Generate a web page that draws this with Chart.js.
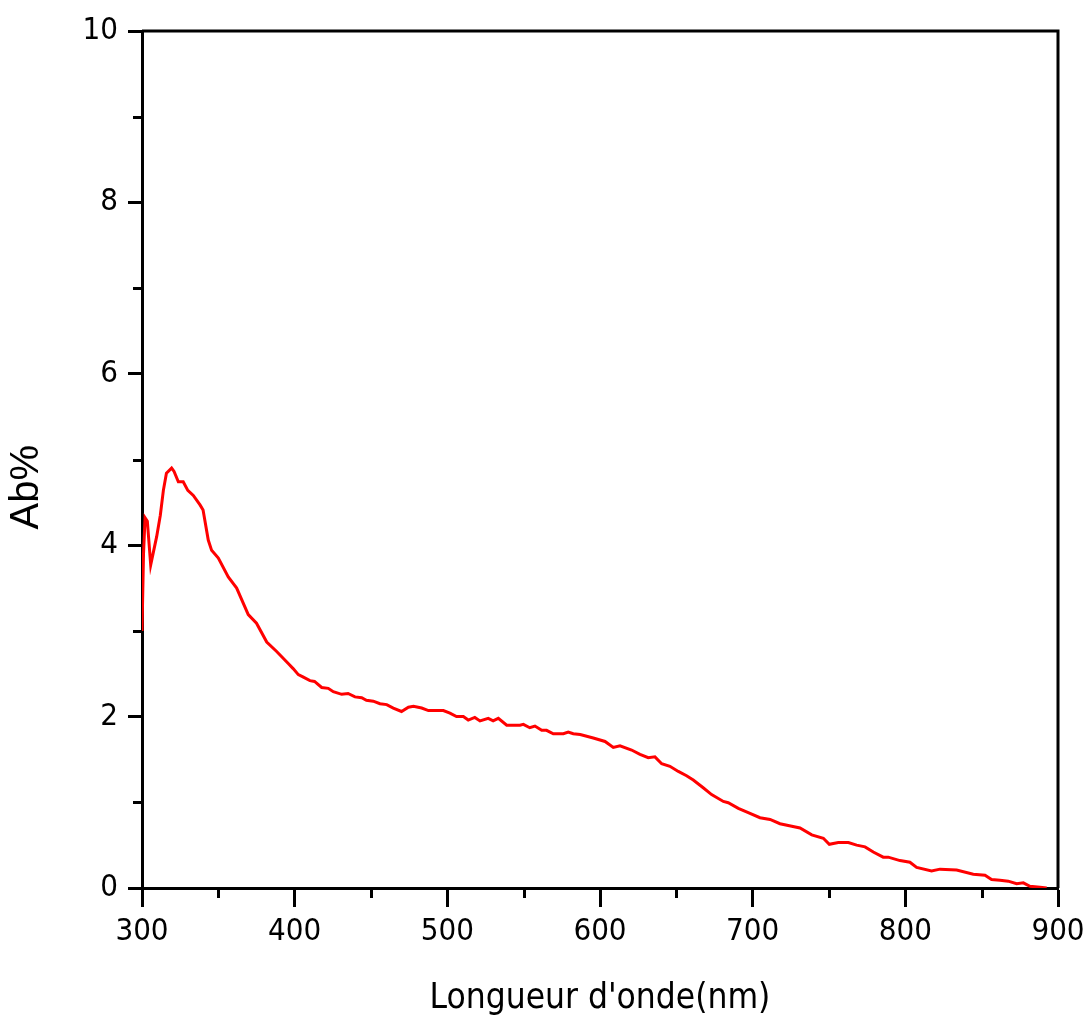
<!DOCTYPE html>
<html>
<head>
<meta charset="utf-8">
<script src="https://cdn.jsdelivr.net/npm/chart.js@4/dist/chart.umd.min.js"></script>
<style>
  html, body { margin: 0; padding: 0; background: #ffffff; }
  #wrap { width: 1084px; height: 1020px; position: relative; }
</style>
</head>
<body>
<div id="wrap"><canvas id="c" width="1084" height="1020"></canvas></div>
<script>
// ---- data ----
const wavelengths = [300, 301, 302, 303.5, 305.7, 309.6, 312, 314, 316, 319.4, 321, 323.8, 327, 330, 333.6, 338, 340, 343.4, 345.6, 350,
  356.5, 362, 369.6, 375, 381.7, 388.2, 395.8, 399, 402.4, 405.7, 410, 413, 417.7, 422, 425.3, 430.8, 435, 439.5, 443.9, 447,
  451.5, 455.9, 460.3, 464.6, 470, 474.5, 477.8, 483.2, 487.6, 497.4, 501.7, 506, 510.5, 513.7, 518, 521.4, 526.8, 530, 533.4, 538.9,
  547.6, 549.8, 554, 557.4, 561.8, 565, 569.4, 576, 579.2, 582.5, 587, 595.6, 603.3, 608.7, 613.1, 620.7, 626.2, 631.6, 636, 640.4,
  645.8, 651.3, 656.7, 661.1, 667.6, 673.1, 680.8, 684, 690.6, 697.1, 704.8, 711.4, 717.9, 725.6, 731, 738.7, 746.3, 750.2, 756.1, 762.7,
  768.1, 773.6, 779, 785.5, 788.8, 796.5, 803, 807.4, 817.2, 822.7, 833.6, 844.5, 852.2, 856.5, 862, 867.4, 872.9, 877.3, 881.6, 888.2, 892.6];
const absorbance = [3.0, 3.9, 4.32, 4.28, 3.77, 4.10, 4.35, 4.64, 4.84, 4.90, 4.86, 4.74, 4.74, 4.64, 4.58, 4.47, 4.41, 4.06, 3.94, 3.85,
  3.63, 3.50, 3.19, 3.09, 2.87, 2.76, 2.62, 2.56, 2.49, 2.46, 2.42, 2.41, 2.34, 2.33, 2.29, 2.26, 2.27, 2.23, 2.22, 2.19,
  2.18, 2.15, 2.14, 2.10, 2.06, 2.11, 2.12, 2.10, 2.07, 2.07, 2.04, 2.00, 2.00, 1.96, 1.99, 1.95, 1.98, 1.95, 1.98, 1.90,
  1.90, 1.91, 1.87, 1.89, 1.84, 1.84, 1.80, 1.80, 1.82, 1.80, 1.79, 1.75, 1.71, 1.64, 1.66, 1.61, 1.56, 1.52, 1.53, 1.45,
  1.42, 1.36, 1.31, 1.26, 1.17, 1.09, 1.01, 0.995, 0.93, 0.88, 0.82, 0.80, 0.75, 0.72, 0.70, 0.62, 0.58, 0.51, 0.53, 0.53,
  0.50, 0.48, 0.42, 0.36, 0.36, 0.32, 0.30, 0.24, 0.20, 0.22, 0.21, 0.16, 0.15, 0.10, 0.09, 0.08, 0.05, 0.06, 0.02, 0.01, 0.0];
const xMajorTicks = [300, 400, 500, 600, 700, 800, 900];
const xMinorTicks = [350, 450, 550, 650, 750, 850];
const yMajorTicks = [0, 2, 4, 6, 8, 10];
const yMinorTicks = [1, 3, 5, 7, 9];
const xTitle = "Longueur d'onde(nm)";
const yTitle = "Ab%";

const narrow = '"Liberation Sans Narrow", "Arial Narrow", "DejaVu Sans Condensed", "Liberation Sans", Arial, sans-serif';
const regular = '"Liberation Sans", Arial, sans-serif';

const points = wavelengths.map((w, i) => ({ x: w, y: absorbance[i] }));

const framePlugin = {
  id: 'frame',
  afterDraw(chart) {
    const { ctx, chartArea: a, scales: { x, y } } = chart;
    ctx.save();
    ctx.strokeStyle = '#000';
    ctx.lineWidth = 3;
    ctx.lineCap = 'butt';
    ctx.beginPath();
    // top and right frame lines
    ctx.moveTo(a.left, a.top);
    ctx.lineTo(a.right + 1.5, a.top);
    ctx.moveTo(a.right, a.top - 1.5);
    ctx.lineTo(a.right, a.bottom);
    // minor ticks
    xMinorTicks.forEach(v => {
      const px = Math.round(x.getPixelForValue(v)) + 0.5;
      ctx.moveTo(px, a.bottom);
      ctx.lineTo(px, a.bottom + 10);
    });
    yMinorTicks.forEach(v => {
      const py = Math.round(y.getPixelForValue(v)) + 0.5;
      ctx.moveTo(a.left - 9, py);
      ctx.lineTo(a.left, py);
    });
    ctx.stroke();
    ctx.restore();
  }
};

new Chart(document.getElementById('c'), {
  type: 'line',
  data: {
    datasets: [{
      data: points,
      borderColor: '#ff0000',
      borderWidth: 3,
      pointRadius: 0,
      tension: 0,
      fill: false
    }]
  },
  options: {
    responsive: false,
    animation: false,
    events: [],
    layout: { padding: { top: 31, right: 26, left: 0, bottom: 0 } },
    plugins: { legend: { display: false }, tooltip: { enabled: false } },
    scales: {
      x: {
        type: 'linear',
        min: 300, max: 900,
        afterFit(s) { s.height = 132; s.paddingLeft = 0; s.paddingRight = 0; },
        afterBuildTicks(s) { s.ticks = xMajorTicks.map(v => ({ value: v })); },
        ticks: {
          color: '#000',
          padding: 6,
          maxRotation: 0,
          font: { family: narrow, size: 31 }
        },
        grid: { drawOnChartArea: false, drawTicks: true, tickLength: 19, tickWidth: 3, tickColor: '#000' },
        border: { display: true, color: '#000', width: 3 },
        title: {
          display: true, text: xTitle, color: '#000',
          font: { family: narrow, size: 35, lineHeight: 1.2 },
          padding: { top: 0, bottom: 0 }
        }
      },
      y: {
        type: 'linear',
        min: 0, max: 10,
        afterFit(s) { s.width = 142; s.paddingTop = 0; s.paddingBottom = 0; },
        afterBuildTicks(s) { s.ticks = yMajorTicks.map(v => ({ value: v })); },
        ticks: {
          color: '#000',
          padding: 10,
          font: { family: narrow, size: 31 }
        },
        grid: { drawOnChartArea: false, drawTicks: true, tickLength: 14, tickWidth: 3, tickColor: '#000' },
        border: { display: true, color: '#000', width: 3 },
        title: {
          display: true, text: yTitle + '     ', color: '#000',
          font: { family: regular, size: 40, lineHeight: 1.2 },
          padding: { top: 3, bottom: 0 }
        }
      }
    }
  },
  plugins: [framePlugin]
});
</script>
</body>
</html>
